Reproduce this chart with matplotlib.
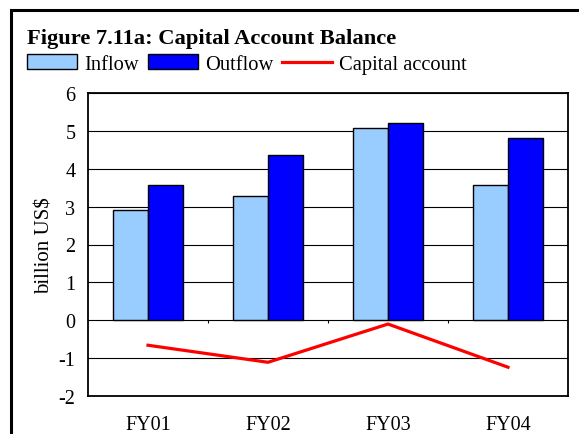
import matplotlib
matplotlib.use("Agg")
import matplotlib.pyplot as plt
import numpy as np
from matplotlib.patches import Rectangle, Patch
from matplotlib.lines import Line2D

categories = ["FY01", "FY02", "FY03", "FY04"]
inflow = [2.90, 3.27, 5.07, 3.56]
outflow = [3.56, 4.35, 5.20, 4.80]
capital_account = [-0.66, -1.11, -0.10, -1.24]
yticks = [-2, -1, 0, 1, 2, 3, 4, 5, 6]

plt.rcParams['font.family'] = ['Liberation Serif', 'DejaVu Serif']

fig = plt.figure(figsize=(5.79, 4.35), dpi=100)
fig.patches.append(Rectangle((11/579, -0.1), 1.2, 1 - 11/435 + 0.1, transform=fig.transFigure,
                             fill=False, edgecolor='black', linewidth=2.2, zorder=0))

ax = fig.add_axes([88/579, 1 - 397/435, 480/579, 303/435])
x = np.arange(len(categories))
w = 0.29
ax.bar(x - w/2, inflow, width=w, color='#99CCFF', edgecolor='black', linewidth=1.0, zorder=3)
ax.bar(x + w/2, outflow, width=w, color='#0000FF', edgecolor='black', linewidth=1.0, zorder=3)
ax.plot(x, capital_account, color='#FF0000', linewidth=2.3, zorder=4)

ax.set_xlim(-0.5, len(categories) - 0.5)
ax.set_ylim(min(yticks), max(yticks))
ax.set_yticks(yticks)
ax.set_yticklabels([str(t) for t in yticks])
ax.set_xticks(x)
ax.set_xticklabels(categories)
ax.tick_params(axis='both', length=0, labelsize=14.5)
ax.tick_params(axis='x', pad=14)
ax.tick_params(axis='y', pad=9)
for t in yticks:
    ax.axhline(t, color='black', linewidth=0.8, zorder=1)
# category boundary ticks on the zero line
ax.vlines(x[:-1] + 0.5, -0.08, 0, color='black', linewidth=0.8, zorder=1)
for s in ax.spines.values():
    s.set_linewidth(1.3)
ax.set_ylabel("billion US$", fontsize=15, labelpad=3)

fig.text(27/579, 1 - 39/435, "Figure 7.11a: Capital Account Balance", fontsize=16.2,
         fontweight='bold', va='center', ha='left')

handles = [Patch(facecolor='#99CCFF', edgecolor='black', linewidth=1.0),
           Patch(facecolor='#0000FF', edgecolor='black', linewidth=1.0),
           Line2D([], [], color='#FF0000', linewidth=2.3)]
fig.legend(handles, ["Inflow", "Outflow", "Capital account"], loc='center left',
           bbox_to_anchor=(27/579, 1 - 65/435), ncol=3, frameon=False, fontsize=14.8,
           handlelength=2.45, handleheight=0.7, handletextpad=0.33, columnspacing=0.43,
           borderaxespad=0, borderpad=0)

fig.savefig("out.png", dpi=100)
